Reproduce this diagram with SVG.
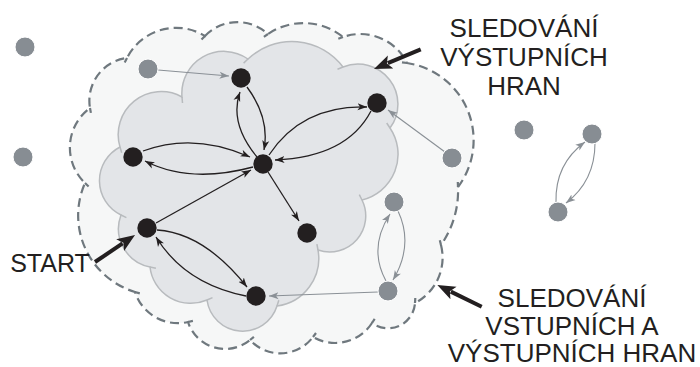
<svg xmlns="http://www.w3.org/2000/svg" width="700" height="367" viewBox="0 0 700 367">
<defs>
<style>
.blk{fill:#231f20}
.gry{fill:#878d93;stroke:#ffffff;stroke-width:1}
.eb{fill:none;stroke:#231f20;stroke-width:1.3}
.eg{fill:none;stroke:#8a9096;stroke-width:1.1}
.thick{fill:none;stroke:#231f20;stroke-width:4}
.lbl{font-family:"Liberation Sans",Arial,sans-serif;font-size:26px;fill:#231f20;text-anchor:middle}
.tin{fill:none;stroke:#b8bbbe;stroke-width:1.5}
.tout{fill:none;stroke:#6f787e;stroke-width:2.2}
</style>
<marker id="ab" markerUnits="userSpaceOnUse" viewBox="0 0 10 8" markerWidth="10" markerHeight="8" refX="9.5" refY="4" orient="auto">
<path d="M0,0.5 L9.5,4 L0,7.5 L2.5,4 Z" fill="#231f20"/>
</marker>
<marker id="ag" markerUnits="userSpaceOnUse" viewBox="0 0 10 8" markerWidth="10" markerHeight="8" refX="9.5" refY="4" orient="auto">
<path d="M0,0.5 L9.5,4 L0,7.5 L2.5,4 Z" fill="#8a9096"/>
</marker>
<marker id="big" markerUnits="userSpaceOnUse" viewBox="0 -8 20 16" markerWidth="20" markerHeight="16" refX="3" refY="0" orient="auto">
<path d="M0,-7 L18,0 L0,7 L4,0 Z" fill="#231f20"/>
</marker>
</defs>

<g id="outer-cloud">
<path d="M205,36 A45,45 0 0 1 268,34 A63,63 0 0 1 343,37 A52,52 0 0 1 407,63 A78,78 0 0 1 458,187 A94,94 0 0 1 441,245 A51,51 0 0 1 415,303 A27,27 0 0 1 372,323 A44,44 0 0 1 313,337 A41,41 0 0 1 250,340 A39,39 0 0 1 188,322 A45,45 0 0 1 135,292 A80,80 0 0 1 85,183 A49,49 0 0 1 90,108 A43,43 0 0 1 127,58 A55,55 0 0 1 205,36 Z" fill="#f6f7f7" stroke="#6f787e" stroke-width="2.2" stroke-dasharray="9,5"/>
<path class="tout" d="M205,36 L201.5,39.6 M268,34 L263.9,36.8 M343,37 L338.3,38.7 M407,63 L402,62.3 M458,187 L457.8,182 M441,245 L439.8,240.2 M415,303 L415.3,298 M372,323 L374.7,318.8 M313,337 L316,333 M250,340 L253.9,336.8 M188,322 L192.9,320.9 M135,292 L139.8,293.4 M85,183 L88.6,186.5 M90,108 L90.9,112.9 M127,58 L124.7,62.5"/>
</g>
<g id="inner-cloud">
<path d="M182,97 A42,42 0 0 1 248,59 A64,64 0 0 1 343,67 A40,40 0 0 1 390,128 A47,47 0 0 1 362,200 A36,36 0 0 1 318,250 A48,48 0 0 1 277,306 A36,36 0 0 1 207,300 A41,41 0 0 1 150,267 A39,39 0 0 1 121,215 A38,38 0 0 1 120,147 A43,43 0 0 1 182,97 Z" fill="#e3e5e8" stroke="#b8bbbe" stroke-width="1.5"/>
<path class="tin" d="M182,97 L182.5,103 M248,59 L243.6,63.1 M343,67 L337.5,69.2 M390,128 L386.7,123 M362,200 L359.3,194.6 M318,250 L316.9,244.1 M277,306 L278.8,300.3 M207,300 L212.5,297.6 M150,267 L155.9,268.2 M121,215 L126.4,217.6 M120,147 L121.7,152.7"/>
</g>

<g id="connectors">
<path class="eb" d="M247,87 Q270,118 264,150" marker-end="url(#ab)"/>
<path class="eb" d="M257,157 Q229,123 240,92" marker-end="url(#ab)"/>
<path class="eb" d="M143,151 Q194,132 250,157" marker-end="url(#ab)"/>
<path class="eb" d="M253,167 Q190,184 145,161" marker-end="url(#ab)"/>
<path class="eb" d="M269,155 Q302,105 367,107" marker-end="url(#ab)"/>
<path class="eb" d="M371,111 Q347,157 275,160" marker-end="url(#ab)"/>
<path class="eb" d="M156,223 L251,170" marker-end="url(#ab)"/>
<path class="eb" d="M268,172 L299,221" marker-end="url(#ab)"/>
<path class="eb" d="M157,230 Q204,233 247,287" marker-end="url(#ab)"/>
<path class="eb" d="M246,296 Q185,284 156,237" marker-end="url(#ab)"/>
<path class="eg" d="M158,70 L229,76" marker-end="url(#ag)"/>
<path class="eg" d="M445,152 L388,110" marker-end="url(#ag)"/>
<path class="eg" d="M378,292 L269,296" marker-end="url(#ag)"/>
<path class="eg" d="M386,281 Q368,248 390,214" marker-end="url(#ag)"/>
<path class="eg" d="M398,211 Q414,245 393,280" marker-end="url(#ag)"/>
<path class="eg" d="M556,202 Q555,164 585,142" marker-end="url(#ag)"/>
<path class="eg" d="M595,143 Q595,181 566,203" marker-end="url(#ag)"/>
<path class="thick" d="M95,262 L122.6,243.4" marker-end="url(#big)"/>
<path class="thick" d="M420.7,49.3 L387.8,63.1" marker-end="url(#big)"/>
<path class="thick" d="M481.7,306.7 L450.8,291.6" marker-end="url(#big)"/>
</g>

<g id="n-a"><circle class="blk" cx="241" cy="78" r="9.7"/></g>
<g id="n-b"><circle class="blk" cx="377" cy="103" r="9.7"/></g>
<g id="n-c"><circle class="blk" cx="133" cy="157" r="9.7"/></g>
<g id="n-d"><circle class="blk" cx="263" cy="164" r="9.7"/></g>
<g id="n-e"><circle class="blk" cx="147" cy="228" r="9.7"/></g>
<g id="n-f"><circle class="blk" cx="307" cy="233" r="9.7"/></g>
<g id="n-g"><circle class="blk" cx="256" cy="296" r="9.7"/></g>

<g id="g-1"><circle class="gry" cx="25" cy="47" r="10"/></g>
<g id="g-2"><circle class="gry" cx="148" cy="69" r="10"/></g>
<g id="g-3"><circle class="gry" cx="23" cy="157" r="10"/></g>
<g id="g-4"><circle class="gry" cx="452" cy="158" r="10"/></g>
<g id="g-5"><circle class="gry" cx="524" cy="130" r="10"/></g>
<g id="g-6"><circle class="gry" cx="592" cy="134" r="10"/></g>
<g id="g-7"><circle class="gry" cx="558" cy="212" r="10"/></g>
<g id="g-8"><circle class="gry" cx="394" cy="202" r="10"/></g>
<g id="g-9"><circle class="gry" cx="388" cy="291" r="10"/></g>

<g id="label-out">
<text class="lbl" x="524" y="37">SLEDOVÁNÍ</text>
<text class="lbl" x="524" y="66">VÝSTUPNÍCH</text>
<text class="lbl" x="524" y="95">HRAN</text>
</g>
<g id="label-inout">
<text class="lbl" x="572" y="307">SLEDOVÁNÍ</text>
<text class="lbl" x="572" y="335">VSTUPNÍCH A</text>
<text class="lbl" x="572" y="362">VÝSTUPNÍCH HRAN</text>
</g>
<g id="label-start">
<text class="lbl" x="50" y="272" style="font-size:25px">START</text>
</g>
</svg>
